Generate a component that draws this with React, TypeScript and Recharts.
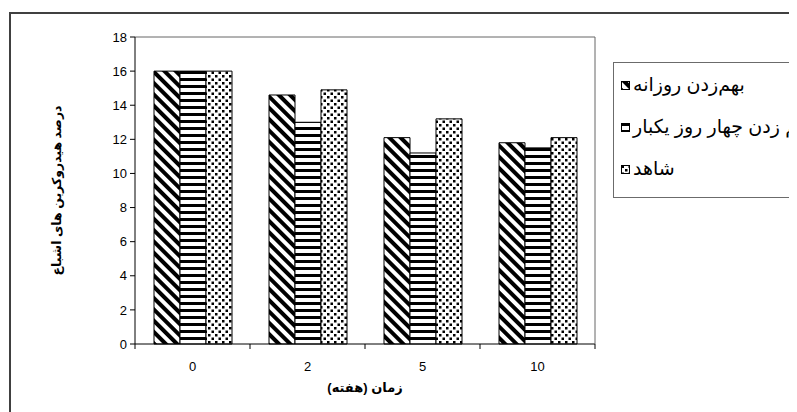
import React from "react";
import {
  BarChart,
  Bar,
  XAxis,
  YAxis,
  Legend,
  ReferenceLine,
} from "recharts";

const weeks = ["0", "2", "5", "10"];
const dailyMix = [16, 14.6, 12.1, 11.8];
const fourDayMix = [16, 13.0, 11.2, 11.5];
const control = [16, 14.9, 13.2, 12.1];
const seriesKeys = ["daily", "four", "ctrl"];
const seriesNames = ["بهم‌زدن روزانه", "بهم زدن چهار روز یکبار", "شاهد"];
const yTicks = [0, 2, 4, 6, 8, 10, 12, 14, 16, 18];
const xTitle = "زمان (هفته)";
const yTitle = "درصد هیدروکربن های اشباع";

const data = weeks.map((w, i) => ({
  week: w,
  daily: dailyMix[i],
  four: fourDayMix[i],
  ctrl: control[i],
}));

const FONT = '"Liberation Sans", Arial, "DejaVu Sans", sans-serif';

function WeekTick(props: any) {
  const { x, y, payload, index } = props;
  const half = payload && payload.offset ? payload.offset : 57.5;
  const last = index === weeks.length - 1;
  return (
    <g>
      <line x1={x - half} x2={x - half} y1={y} y2={y + 5} stroke="#000" />
      {last && <line x1={x + half} x2={x + half} y1={y} y2={y + 5} stroke="#000" />}
      <text x={x} y={y + 27} textAnchor="middle" fontSize={13} fill="#000" fontFamily={FONT}>
        {payload.value}
      </text>
    </g>
  );
}

function LegendBox(props: any) {
  const items = [...(props.payload || [])].sort(
    (a: any, b: any) => seriesKeys.indexOf(a.dataKey) - seriesKeys.indexOf(b.dataKey)
  );
  return (
    <div
      style={{
        width: 200,
        height: 133,
        border: "1px solid #6b6b6b",
        background: "#fff",
        paddingTop: 1,
        boxSizing: "content-box",
      }}
    >
      {items.map((entry: any, i: number) => (
        <div
          key={i}
          style={{ height: 42, display: "flex", alignItems: "center", paddingLeft: 7 }}
        >
          <svg width={9} height={9} style={{ flex: "none" }}>
            <rect x={0.5} y={0.5} width={8} height={8} fill={entry.color} stroke="#000" />
          </svg>
          <span
            dir="rtl"
            style={{
              marginLeft: 3,
              fontSize: 19,
              lineHeight: "22px",
              color: "#000",
              whiteSpace: "nowrap",
              fontFamily: FONT,
            }}
          >
            {entry.value}
          </span>
        </div>
      ))}
    </div>
  );
}

export default function App() {
  return (
    <div style={{ position: "relative", width: 789, height: 404, overflow: "hidden", fontFamily: FONT }}>
      <div
        style={{
          position: "absolute",
          left: 1,
          top: 4,
          width: 900,
          height: 500,
          border: "2px solid #404040",
        }}
      />
      <div style={{ position: "absolute", left: 0, top: 0 }}>
        <BarChart
          width={789}
          height={404}
          data={data}
          margin={{ top: 29, right: 201, bottom: 38, left: 87 }}
          barGap={0}
        >
          <defs>
            <pattern id="pDiag" patternUnits="userSpaceOnUse" width={8} height={8} patternTransform="rotate(-45)">
              <rect width={8} height={8} fill="#fff" />
              <rect width={4} height={8} fill="#000" />
            </pattern>
            <pattern id="pHoriz" patternUnits="userSpaceOnUse" width={8} height={7}>
              <rect width={8} height={7} fill="#fff" />
              <rect width={8} height={3} fill="#000" />
            </pattern>
            <pattern id="pDots" patternUnits="userSpaceOnUse" width={7} height={7}>
              <rect width={7} height={7} fill="#fff" />
              <rect x={0.5} y={0.5} width={2.5} height={2.5} fill="#000" />
              <rect x={4} y={4} width={2.5} height={2.5} fill="#000" />
            </pattern>
          </defs>
          <XAxis
            dataKey="week"
            stroke="#000"
            tickLine={false}
            tickSize={0}
            tickMargin={0}
            height={30}
            interval={0}
            tick={<WeekTick />}
            label={{
              content: ({ viewBox }: any) => (
                <text
                  x={viewBox.x + viewBox.width / 2}
                  y={viewBox.y + 48}
                  textAnchor="middle"
                  fontSize={13}
                  fontWeight="bold"
                  fontFamily={FONT}
                  fill="#000"
                >
                  {xTitle}
                </text>
              ),
            }}
          />
          <YAxis
            domain={[0, 18]}
            ticks={yTicks}
            interval={0}
            width={40}
            stroke="#000"
            tickSize={5}
            tickMargin={3}
            tick={{ fontSize: 13, fill: "#000", fontFamily: FONT }}
            label={{
              content: ({ viewBox }: any) => {
                const cx = viewBox.x - 38;
                const cy = viewBox.y + viewBox.height / 2;
                return (
                  <text
                    x={cx}
                    y={cy}
                    transform={`rotate(-90 ${cx} ${cy})`}
                    textAnchor="middle"
                    dominantBaseline="central"
                    fontSize={12.5}
                    fontWeight="bold"
                    fontFamily={FONT}
                    fill="#000"
                  >
                    {yTitle}
                  </text>
                );
              },
            }}
          />
          <YAxis
            yAxisId="frame"
            orientation="right"
            domain={[0, 18]}
            width={1}
            tick={false}
            tickLine={false}
            stroke="#666"
          />
          <ReferenceLine y={18} stroke="#666" />
          <Legend
            layout="vertical"
            align="center"
            verticalAlign="middle"
            content={<LegendBox />}
            wrapperStyle={{ left: 605, top: 54, width: 202 }}
          />
          <Bar dataKey="daily" name={seriesNames[0]} barSize={26} fill="url(#pDiag)" stroke="#000" isAnimationActive={false} />
          <Bar dataKey="four" name={seriesNames[1]} barSize={26} fill="url(#pHoriz)" stroke="#000" isAnimationActive={false} />
          <Bar dataKey="ctrl" name={seriesNames[2]} barSize={26} fill="url(#pDots)" stroke="#000" isAnimationActive={false} />
        </BarChart>
      </div>
    </div>
  );
}
